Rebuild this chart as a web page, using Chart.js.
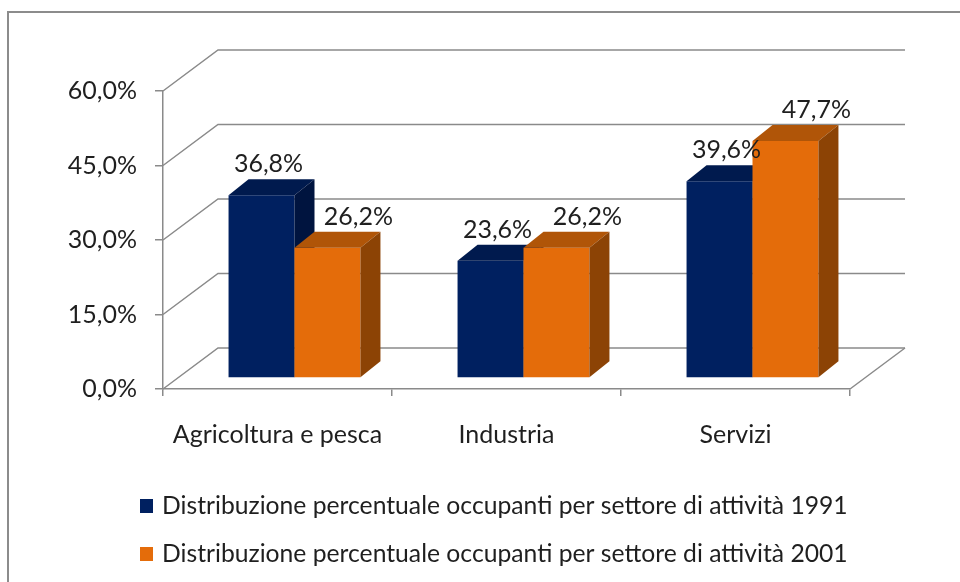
<!DOCTYPE html>
<html>
<head>
<meta charset="utf-8">
<script src="https://cdn.jsdelivr.net/npm/chart.js@4.4.0/dist/chart.umd.min.js"></script>
<style>
    html, body { margin: 0; padding: 0; background: #fff; }
</style>
</head>
<body>
<canvas id="myChart" width="960" height="582"></canvas>
<script>
const categories = ["Agricoltura e pesca", "Industria", "Servizi"];
const values1991 = [36.8, 23.6, 39.6];
const values2001 = [26.2, 26.2, 47.7];
const seriesLabels = [
    "Distribuzione percentuale occupanti per settore di attività 1991",
    "Distribuzione percentuale occupanti per settore di attività 2001",
];
const yTicks = [0, 15, 30, 45, 60];

const gridColor = "#8a8a8a";
const textColor = "#1f1f1f";
const font = { family: "Lato", size: 25 };

// colours of the box faces: front, top, side
const faces = [
    { front: "#002060", top: "#001a4e", side: "#00143f" },
    { front: "#e46c0a", top: "#b05508", side: "#8c4305" },
];

// offset of the back wall from the front plane
const WALL = { dx: 55, dy: -41 };
// bars stand a little behind the front plane, and have this much depth
const BAR_SHIFT = { dx: 17, dy: -11 };
const BAR_DEPTH = { dx: 20, dy: -16 };
// value labels of the two series are pushed apart so they don't collide
const LABEL_DX = [7, 31];

function fmt(v) {
    return v.toFixed(1).replace(".", ",") + "%";
}

function poly(ctx, pts, fill) {
    ctx.beginPath();
    ctx.moveTo(pts[0][0], pts[0][1]);
    for (let i = 1; i < pts.length; i++) ctx.lineTo(pts[i][0], pts[i][1]);
    ctx.closePath();
    ctx.fillStyle = fill;
    ctx.fill();
}

const frame = {
    id: "frame",
    beforeDraw(chart) {
        const ctx = chart.ctx;
        ctx.save();
        ctx.strokeStyle = "#8c8c8c";
        ctx.lineWidth = 2;
        ctx.strokeRect(8, 12, 1000, 1000);
        ctx.restore();
    },
};

const threeD = {
    id: "threeD",
    beforeDatasetsDraw(chart) {
        const { ctx, chartArea: a, scales } = chart;
        const ys = scales.y;

        // side wall and back wall gridlines
        ctx.save();
        ctx.strokeStyle = gridColor;
        ctx.lineWidth = 1.5;
        yTicks.forEach((v) => {
            const py = ys.getPixelForValue(v);
            ctx.beginPath();
            ctx.moveTo(a.left, py);
            ctx.lineTo(a.left + WALL.dx, py + WALL.dy);
            ctx.lineTo(a.right + WALL.dx, py + WALL.dy);
            ctx.stroke();
        });
        // right edge of the floor
        ctx.beginPath();
        ctx.moveTo(a.right, a.bottom);
        ctx.lineTo(a.right + WALL.dx, a.bottom + WALL.dy);
        ctx.stroke();

        // bars as boxes, value labels after all of them
        const labels = [];
        chart.data.datasets.forEach((ds, di) => {
            const meta = chart.getDatasetMeta(di);
            const c = faces[di];
            meta.data.forEach((bar, i) => {
                const p = bar.getProps(["x", "y", "base", "width"], true);
                const l = p.x - p.width / 2 + BAR_SHIFT.dx;
                const r = p.x + p.width / 2 + BAR_SHIFT.dx;
                const t = p.y + BAR_SHIFT.dy;
                const b = p.base + BAR_SHIFT.dy;
                const ddx = BAR_DEPTH.dx, ddy = BAR_DEPTH.dy;

                poly(ctx, [[l, t], [r, t], [r, b], [l, b]], c.front);
                poly(ctx, [[l, t], [l + ddx, t + ddy], [r + ddx, t + ddy], [r, t]], c.top);
                poly(ctx, [[r, t], [r + ddx, t + ddy], [r + ddx, b + ddy], [r, b]], c.side);

                labels.push({ text: fmt(ds.data[i]), x: (l + r) / 2 + LABEL_DX[di], y: t - 31 });
            });
        });

        ctx.fillStyle = textColor;
        ctx.font = font.size + "px " + font.family;
        ctx.textAlign = "center";
        ctx.textBaseline = "middle";
        labels.forEach((lb) => ctx.fillText(lb.text, lb.x, lb.y));
        ctx.restore();
        // the boxes replace the flat bars
        return false;
    },
};

// legend as a plain list, one series per row
const listLegend = {
    id: "listLegend",
    afterDraw(chart) {
        const ctx = chart.ctx;
        ctx.save();
        ctx.font = "24.7px " + font.family;
        ctx.textAlign = "left";
        ctx.textBaseline = "middle";
        chart.data.datasets.forEach((ds, i) => {
            const y = 506 + i * 48;
            ctx.fillStyle = ds.backgroundColor;
            ctx.fillRect(140, y - 7, 13, 14);
            ctx.fillStyle = textColor;
            ctx.fillText(ds.label, 162, y);
        });
        ctx.restore();
    },
};

const ctx = document.getElementById("myChart").getContext("2d");
const chart = new Chart(ctx, {
    type: "bar",
    data: {
        labels: categories,
        datasets: [
            {
                label: seriesLabels[0],
                data: values1991,
                backgroundColor: faces[0].front,
                borderWidth: 0,
                categoryPercentage: 0.576,
                barPercentage: 1,
            },
            {
                label: seriesLabels[1],
                data: values2001,
                backgroundColor: faces[1].front,
                borderWidth: 0,
                categoryPercentage: 0.576,
                barPercentage: 1,
            },
        ],
    },
    options: {
        responsive: false,
        animation: false,
        layout: {
            padding: { left: 0, right: 110, top: 91, bottom: 114 },
        },
        scales: {
            x: {
                grid: {
                    drawOnChartArea: false,
                    tickLength: 7,
                    color: gridColor,
                    lineWidth: 1.5,
                },
                border: { color: gridColor, width: 1.5 },
                ticks: { padding: 24, font: font, color: textColor },
                afterFit: (s) => {
                    s.height = 79;
                },
            },
            y: {
                min: 0,
                max: 60,
                ticks: {
                    stepSize: 15,
                    padding: 18,
                    font: font,
                    color: textColor,
                    callback: (v) => fmt(v),
                },
                grid: {
                    drawOnChartArea: false,
                    tickLength: 8,
                    color: gridColor,
                    lineWidth: 1.5,
                },
                border: { color: gridColor, width: 1.5 },
                afterFit: (s) => {
                    s.width = 163;
                },
            },
        },
        plugins: {
            legend: { display: false },
            tooltip: { enabled: false },
        },
    },
    plugins: [frame, threeD, listLegend],
});
</script>
</body>
</html>
